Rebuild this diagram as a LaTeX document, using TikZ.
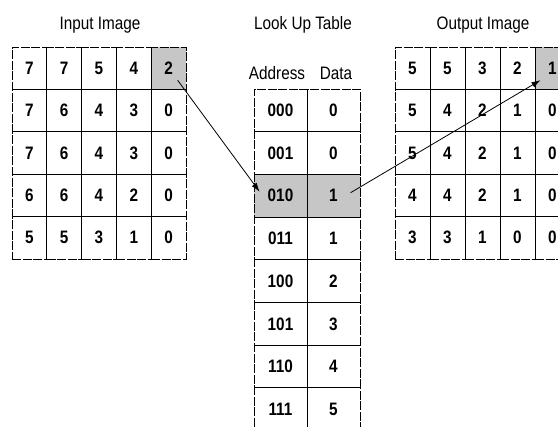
\documentclass[tikz,border=0pt]{standalone}
\usepackage{fontspec}
\setmainfont{Liberation Sans}[FakeStretch=0.85]
\usetikzlibrary{arrows.meta,calc,backgrounds}
\tikzset{
	cell/.style={draw, line width=0.8pt, dash pattern=on 9pt off 1.5pt, inner sep=0pt,
		minimum width=34.8pt, minimum height=42.4pt, font=\fontsize{18}{20}\selectfont\bfseries},
	lutcell/.style={cell, minimum width=53pt, minimum height=42.7pt},
	title/.style={font=\fontsize{18}{20}\selectfont},
	hit/.style={fill=gray!45},
	map/.style={-{Latex[length=9pt,width=6pt]}, line width=0.8pt}
}
\begin{document}
\begin{tikzpicture}[x=1pt,y=-1pt]
	\useasboundingbox (0,0) rectangle (558,427);
	\node[title] (tin) at (100,25) {Input Image};
	\node[title] (tlut) at (303,25) {Look Up Table};
	\node[title] (tout) at (483,25) {Output Image};
	\node[title] (taddr) at (277,73) {Address};
	\node[title] (tdata) at (336,73) {Data};
	\foreach \row [count=\r from 0] in {{7,7,5,4,2},{7,6,4,3,0},{7,6,4,3,0},{6,6,4,2,0},{5,5,3,1,0}}
		\foreach \v [count=\c from 0] in \row
			\node[cell] (in-\r-\c) at ({29.4+34.8*\c},{68.2+42.4*\r}) {\v};
	\foreach \row [count=\r from 0] in {{5,5,3,2,1},{5,4,2,1,0},{5,4,2,1,0},{4,4,2,1,0},{3,3,1,0,0}}
		\foreach \v [count=\c from 0] in \row
			\node[cell, minimum width=35pt] (out-\r-\c) at ({412.5+35*\c},{68.2+42.4*\r}) {\v};
	\foreach \a/\d [count=\r from 0] in {000/0,001/0,010/1,011/1,100/2,101/3,110/4,111/5} {
		\node[lutcell] (addr-\r) at (280.5,{110.35+42.7*\r}) {\a};
		\node[lutcell] (data-\r) at (333.5,{110.35+42.7*\r}) {\d};
	}
	\begin{scope}[on background layer]
		\fill[hit] (in-0-4.south west) rectangle (in-0-4.north east);
		\fill[hit] (out-0-4.south west) rectangle (out-0-4.north east);
		\fill[hit] (addr-2.south west) rectangle (data-2.north east);
	\end{scope}
	\draw[map] ($(in-0-4.center)+(9,12)$) -- ($(addr-2.west)+(6,-4)$);
	\draw[map] ($(data-2.center)+(17,-3)$) -- ($(out-0-4.center)+(-12,12)$);
\end{tikzpicture}
\end{document}
